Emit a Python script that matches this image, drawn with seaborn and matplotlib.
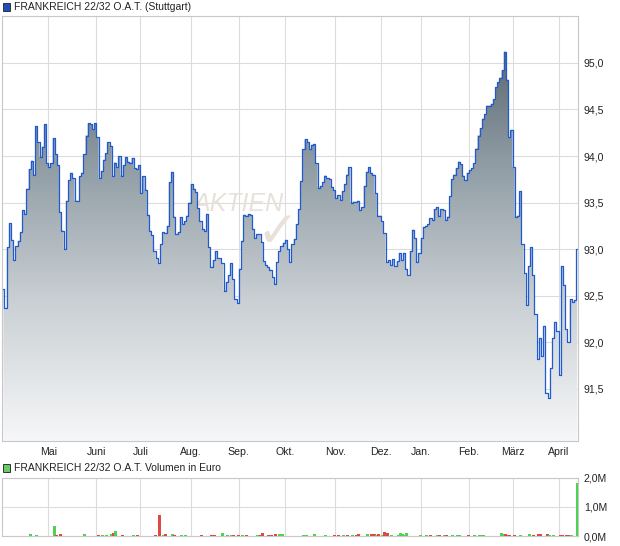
import numpy as np
import pandas as pd
import seaborn as sns
import matplotlib.pyplot as plt
from matplotlib.colors import LinearSegmentedColormap
from matplotlib.patches import Rectangle
from matplotlib.ticker import FuncFormatter

# Daten
title = "FRANKREICH 22/32 O.A.T. (Stuttgart)"
vol_title = "FRANKREICH 22/32 O.A.T. Volumen in Euro"
holidays = ["2024-05-01", "2024-12-24", "2024-12-25", "2024-12-26", "2024-12-31", "2025-01-01"]
dates = pd.bdate_range("2024-04-02", "2025-04-11", freq="C", holidays=holidays)
month_labels = ["Mai", "Juni", "Juli", "Aug.", "Sep.", "Okt.", "Nov.", "Dez.", "Jan.", "Feb.", "März", "April"]

price = [
    92.57, 92.37, 93.02, 93.28, 93.10, 92.88, 93.03, 93.09, 93.18, 93.42,
    93.38, 93.65, 93.86, 93.95, 93.80, 94.32, 94.15, 93.99, 94.10, 94.34,
    93.92, 93.88, 93.92, 94.19, 94.02, 93.90, 93.40, 93.20, 93.00, 93.52,
    93.74, 93.82, 93.76, 93.52, 93.52, 93.78, 93.82, 94.02, 94.22, 94.35,
    94.34, 94.29, 94.35, 94.20, 93.76, 93.84, 93.96, 94.03, 94.15, 94.11,
    93.78, 93.93, 93.88, 94.00, 93.79, 93.90, 93.99, 93.94, 93.93, 93.98,
    93.87, 93.86, 93.90, 93.60, 93.78, 93.64, 93.37, 93.20, 93.15, 92.98,
    92.90, 92.85, 93.05, 93.18, 93.17, 93.25, 93.72, 93.83, 93.35, 93.16,
    93.18, 93.34, 93.27, 93.30, 93.36, 93.50, 93.70, 93.65, 93.61, 93.44,
    93.30, 93.22, 93.20, 93.38, 93.02, 92.81, 92.88, 92.98, 92.90, 92.90,
    92.85, 92.55, 92.65, 92.72, 92.85, 92.68, 92.46, 92.42, 92.79, 93.09,
    93.37, 93.36, 93.38, 93.37, 93.22, 93.12, 93.16, 93.16, 93.08, 92.87,
    92.83, 92.81, 92.78, 92.70, 92.63, 92.86, 92.98, 93.03, 93.07, 93.10,
    93.00, 92.86, 93.05, 93.11, 93.27, 93.43, 93.73, 94.07, 94.18, 94.15,
    94.07, 94.12, 94.13, 93.92, 93.66, 93.68, 93.72, 93.79, 93.76, 93.75,
    93.67, 93.63, 93.55, 93.58, 93.53, 93.62, 93.70, 93.80, 93.88, 93.50,
    93.51, 93.51, 93.52, 93.42, 93.45, 93.68, 93.83, 93.88, 93.82, 93.80,
    93.60, 93.36, 93.36, 93.30, 93.17, 92.86, 92.88, 92.83, 92.89, 92.82,
    92.87, 92.96, 92.88, 92.96, 92.79, 92.72, 92.98, 93.21, 93.12, 92.86,
    92.96, 93.12, 93.24, 93.25, 93.27, 93.33, 93.31, 93.43, 93.45, 93.36,
    93.43, 93.42, 93.31, 93.35, 93.57, 93.75, 93.80, 93.87, 93.94, 93.91,
    93.79, 93.74, 93.82, 93.85, 93.87, 93.92, 94.08, 94.22, 94.30, 94.40,
    94.45, 94.54, 94.54, 94.56, 94.61, 94.74, 94.79, 94.84, 94.92, 95.12,
    94.82, 94.20, 94.28, 93.88, 93.35, 93.36, 93.62, 93.05, 92.74, 92.40,
    92.82, 93.02, 92.72, 92.30, 91.82, 92.05, 91.85, 92.18, 91.46, 91.40,
    91.72, 92.05, 92.22, 92.12, 91.65, 92.82, 92.62, 92.14, 92.00, 92.46,
    92.43, 92.45, 93.00,
]

# Volumen: Handelstag (Index), Volumen in Mio. Euro, Richtung (+1 gruen / -1 rot)
vol_idx = [12, 15, 23, 24, 26, 37, 43, 45, 47, 49,
           50, 51, 54, 59, 61, 69, 71, 73, 74, 77,
           78, 81, 83, 90, 95, 96, 100, 102, 104, 105,
           107, 109, 111, 116, 117, 118, 121, 122, 124, 126,
           127, 137, 138, 142, 147, 151, 153, 155, 157, 159,
           161, 162, 166, 168, 169, 170, 171, 173, 174, 175,
           177, 180, 181, 182, 183, 184, 190, 193, 195, 198,
           199, 201, 202, 205, 207, 208, 212, 215, 217, 218,
           219, 227, 228, 229, 230, 231, 233, 236, 240, 242,
           244, 245, 248, 249, 251, 254, 255, 257, 258, 259,
           262]
vol_val = [0.06, 0.02, 0.35, 0.02, 0.06, 0.07, 0.05, 0.05, 0.05, 0.06,
           0.11, 0.18, 0.02, 0.02, 0.05, 0.05, 0.72, 0.02, 0.08, 0.08,
           0.02, 0.05, 0.02, 0.02, 0.02, 0.02, 0.11, 0.02, 0.02, 0.03,
           0.05, 0.02, 0.02, 0.02, 0.05, 0.10, 0.05, 0.05, 0.07, 0.06,
           0.06, 0.05, 0.02, 0.07, 0.02, 0.02, 0.02, 0.02, 0.02, 0.02,
           0.02, 0.06, 0.07, 0.07, 0.06, 0.03, 0.08, 0.05, 0.14, 0.10,
           0.02, 0.05, 0.10, 0.08, 0.03, 0.11, 0.05, 0.02, 0.02, 0.03,
           0.03, 0.02, 0.03, 0.02, 0.02, 0.03, 0.02, 0.02, 0.05, 0.05,
           0.03, 0.10, 0.06, 0.06, 0.05, 0.05, 0.05, 0.05, 0.07, 0.03,
           0.06, 0.06, 0.07, 0.02, 0.03, 0.02, 0.02, 0.03, 0.05, 0.05,
           1.81]
vol_dir = [1, 1, 1, -1, -1, 1, -1, 1, 1, 1,
           -1, 1, -1, 1, -1, -1, -1, 1, -1, 1,
           -1, 1, 1, -1, -1, -1, 1, 1, 1, -1,
           -1, 1, -1, 1, -1, -1, -1, -1, -1, 1,
           1, 1, 1, 1, 1, -1, -1, 1, -1, 1,
           -1, -1, 1, -1, -1, 1, -1, 1, -1, -1,
           1, 1, 1, 1, 1, 1, 1, 1, -1, 1,
           -1, 1, -1, 1, 1, 1, -1, 1, 1, 1,
           1, 1, 1, -1, -1, -1, -1, 1, 1, -1,
           -1, -1, -1, 1, 1, -1, -1, -1, -1, 1,
           1]

# Aufbereitung
x = np.arange(len(price))
month_pos = [i - 0.5 for i in range(1, len(dates)) if dates[i].month != dates[i - 1].month]
y_lo, y_hi = 90.94, 95.5
x_lo, x_hi = -0.5, len(price) - 0.5

sns.set_style("white")
plt.rcParams["font.family"] = ["Liberation Sans", "DejaVu Sans"]

W, H = 620, 546
fig = plt.figure(figsize=(W / 100, H / 100), dpi=100)
ax = fig.add_axes([2.3 / W, 1 - 441 / H, 576 / W, (441 - 16.3) / H])
axv = fig.add_axes([2.3 / W, 1 - 536 / H, 576 / W, (536 - 477.7) / H])

grid_c = "#dcdcdc"
text_c = "#222222"

# Kurs-Chart
ax.text(0.409, 0.558, "AKTIEN", transform=ax.transAxes, fontsize=18, style="italic",
        color="#e7e1d9", ha="center", va="center", zorder=1)
ax.text(0.478, 0.49, "\u2713", transform=ax.transAxes, fontsize=36, family="DejaVu Sans",
        color="#e7e1d9", ha="center", va="center", zorder=1)

poly = ax.fill_between(x, price, y_lo, step="mid", facecolor="none", edgecolor="none")
cmap = LinearSegmentedColormap.from_list("flaeche", ["#f6f7f8", "#c9cfd3", "#8d9aa2", "#4b5963"])
grad = np.linspace(0, 1, 256).reshape(-1, 1)
im = ax.imshow(grad, extent=[x_lo, x_hi, y_lo, y_hi], origin="lower", aspect="auto",
               cmap=cmap, zorder=2)
im.set_clip_path(poly.get_paths()[0], transform=ax.transData)

sns.lineplot(x=x, y=price, ax=ax, color="#1f5ad1", lw=0.9, drawstyle="steps-mid",
             estimator=None, zorder=4)

ax.set_xlim(x_lo, x_hi)
ax.set_ylim(y_lo, y_hi)
ax.set_xlabel("")
ax.set_ylabel("")
ax.set_xticks(month_pos)
ax.set_xticklabels(month_labels)
ax.set_yticks(np.arange(91.5, 95.51, 0.5))
ax.yaxis.tick_right()
ax.yaxis.set_major_formatter(FuncFormatter(lambda v, p: "" if v > 95.2 else f"{v:.1f}".replace(".", ",")))
ax.tick_params(length=0, labelsize=7.6, colors=text_c, pad=4)
ax.tick_params(axis="x", pad=4)
ax.grid(True, color=grid_c, lw=0.8)
ax.set_axisbelow(True)
for s in ax.spines.values():
    s.set_color("#c8c8c8")
    s.set_linewidth(0.8)

# Volumen-Chart (scharfe, schmale Balken)
bar_colors = ["#4fd24f" if d > 0 else "#e04848" for d in vol_dir]
axv.vlines(vol_idx, 0, vol_val, colors=bar_colors, lw=0.75, antialiased=False, zorder=4)
axv.set_xlim(x_lo, x_hi)
axv.set_ylim(0, 2.0)
axv.set_xticks(month_pos)
axv.set_xticklabels([])
axv.set_yticks([0, 1, 2])
axv.yaxis.tick_right()
axv.yaxis.set_major_formatter(FuncFormatter(lambda v, p: f"{v:.1f}M".replace(".", ",")))
axv.tick_params(length=0, labelsize=7.6, colors=text_c, pad=4)
axv.grid(True, color=grid_c, lw=0.8)
axv.set_axisbelow(True)
for s in axv.spines.values():
    s.set_color("#c8c8c8")
    s.set_linewidth(0.8)

# Legenden
fig.add_artist(Rectangle((2.5 / W, 1 - 10.5 / H), 7.5 / W, 7.5 / H, transform=fig.transFigure,
                         facecolor="#1f4fb8", edgecolor="#333333", lw=0.7))
fig.text(14 / W, 1 - 7 / H, title, fontsize=7.5, color=text_c, va="center", ha="left")
fig.add_artist(Rectangle((2.5 / W, 1 - 471.5 / H), 7.5 / W, 7.5 / H, transform=fig.transFigure,
                         facecolor="#66cc66", edgecolor="#333333", lw=0.7))
fig.text(14 / W, 1 - 468 / H, vol_title, fontsize=7.5, color=text_c, va="center", ha="left")

fig.savefig("out.png", dpi=100)
